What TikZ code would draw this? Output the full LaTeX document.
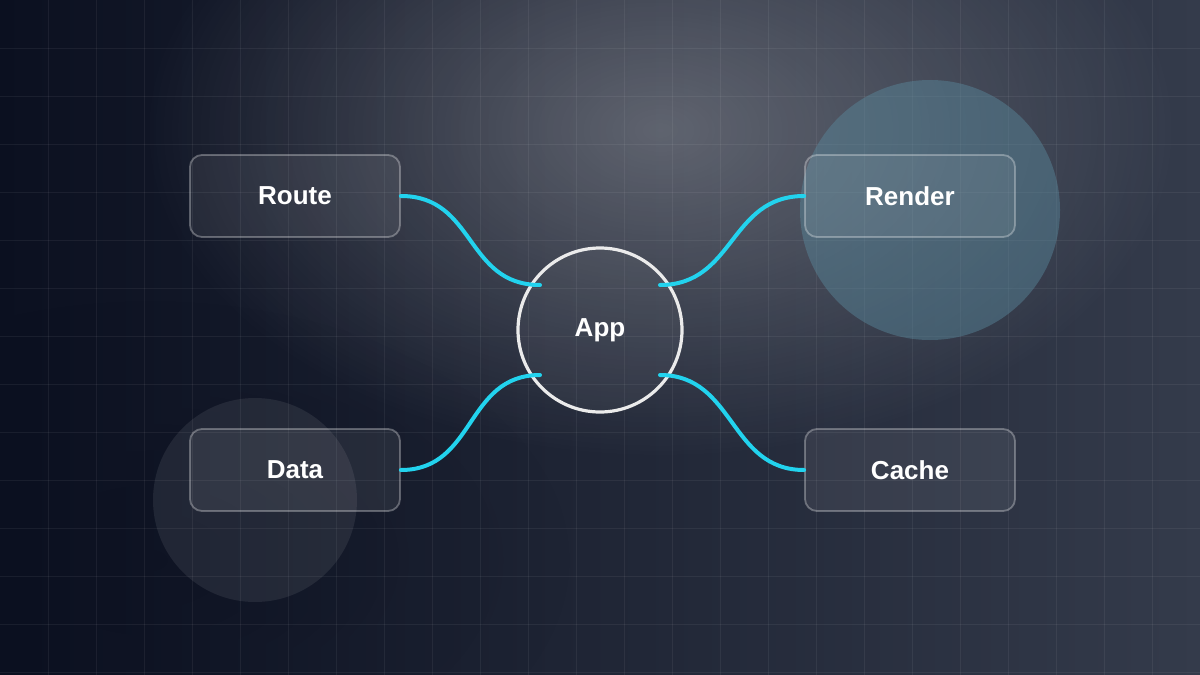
\documentclass[tikz,border=0pt]{standalone}
\usepackage{fontspec}
\setmainfont{Liberation Sans}
\usetikzlibrary{positioning, fadings}

\definecolor{bgdark}{HTML}{0B1020}
\definecolor{bgmid}{HTML}{252C3C}
\definecolor{bglight}{HTML}{343B4B}
\definecolor{wire}{HTML}{22D3EE}
\definecolor{glowteal}{HTML}{5A8A9E}
\tikzfading[name=softglow, inner color=transparent!0, outer color=transparent!100]

\begin{document}
\begin{tikzpicture}[
  x=0.5pt, y=-0.5pt,
  % Node Styles
  box/.style={rectangle, rounded corners=6pt, draw=white, draw opacity=0.3, fill=white, fill opacity=0.07, text opacity=1, line width=0.9pt, minimum width=105pt, minimum height=41pt, text=white, font=\bfseries\fontsize{13}{15}\selectfont},
  hub/.style={circle, draw=white!92!black, line width=1.6pt, fill=white, fill opacity=0.04, text opacity=1, minimum size=82pt, text=white, font=\bfseries\fontsize{13}{15}\selectfont},
  % Connector Style
  link/.style={wire, line width=2pt, line cap=round}
]

% Background
\useasboundingbox (0,0) rectangle (1200,675);
\shade[left color=bgdark, right color=bglight] (0,0) rectangle (1200,675);
\fill[white, opacity=0.28, path fading=softglow] (660,130) ellipse (520 and 330);
\fill[bgdark, opacity=0.35, path fading=softglow] (150,560) ellipse (420 and 260);

% Grid
\foreach \gx in {48,96,...,1200}
  \draw[white, opacity=0.06, line width=0.5pt] (\gx,0) -- (\gx,675);
\foreach \gy in {48,96,...,672}
  \draw[white, opacity=0.06, line width=0.5pt] (0,\gy) -- (1200,\gy);

% Glows
\fill[glowteal, opacity=0.45] (930,210) circle (130);
\fill[white, opacity=0.08] (255,500) circle (102);

% Nodes
\node[hub] (app) at (600,330) {App};
\node[box] (route) at (295,196) {Route};
\node[box] (render) at (910,196) {Render};
\node[box] (data) at (295,470) {Data};
\node[box] (cache) at (910,470) {Cache};

% Connectors
\coordinate (appNW) at (540,285);
\coordinate (appNE) at (660,285);
\coordinate (appSW) at (540,375);
\coordinate (appSE) at (660,375);
\draw[link] (route.east) .. controls +(75,0) and +(-75,0) .. (appNW);
\draw[link] (render.west) .. controls +(-75,0) and +(75,0) .. (appNE);
\draw[link] (data.east) .. controls +(75,0) and +(-75,0) .. (appSW);
\draw[link] (cache.west) .. controls +(-75,0) and +(75,0) .. (appSE);

\end{tikzpicture}
\end{document}
